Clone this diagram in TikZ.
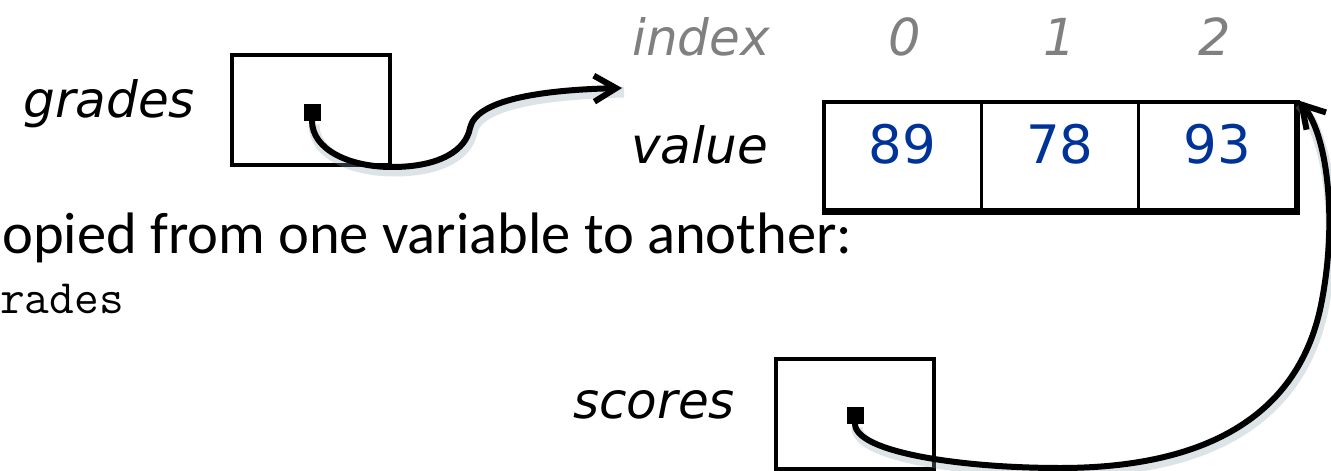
\documentclass[tikz,border=0pt]{standalone}
\usepackage{fontspec}
\setmainfont{DejaVu Sans}
\newfontfamily\calfont{Carlito}
\usetikzlibrary{arrows.meta}
\definecolor{idxgray}{RGB}{128,128,128}
\definecolor{numblue}{RGB}{0,51,153}
\definecolor{shadowgray}{RGB}{140,165,180}
\begin{document}
\begin{tikzpicture}[x=1pt,y=-1pt,
  lbl/.style={font=\fontsize{50}{60}\selectfont\itshape, inner sep=0, anchor=base east},
  idx/.style={font=\fontsize{51}{60}\selectfont\itshape, text=idxgray, inner sep=0, anchor=base},
  num/.style={font=\fontsize{53}{62}\selectfont, text=numblue, inner sep=0, anchor=base},
  refbox/.style={draw, line width=3.5pt, minimum width=158pt, minimum height=110pt, inner sep=0},
  cell/.style={draw, line width=3.5pt, minimum width=157.3pt, minimum height=108pt, inner sep=0},
  refdot/.style={fill, minimum size=17pt, inner sep=0},
  ptr/.style={line width=6pt, -{Straight Barb[length=22pt,width=26pt,line width=6pt]}},
  ptrshadow/.style={line width=11pt, draw=shadowgray, opacity=0.3, transform canvas={shift={(2pt,-4pt)}}}
]
\useasboundingbox (0,0) rectangle (1331,471);

% labels
\node[lbl] (gradeslbl) at (195,117) {grades};
\node[lbl] (scoreslbl) at (735,418) {scores};
\node[lbl] (valuelbl) at (768,163) {value};
\node[lbl, text=idxgray] (indexlbl) at (770,55) {index};

% reference boxes
\node[refbox] (gbox) at (311,110) {};
\node[refbox] (sbox) at (855,414) {};
\node[refdot] (gdot) at (312,112) {};
\node[refdot] (sdot) at (855,415) {};

% array cells
\node[cell] (c0) at (902.7,156) {};
\node[cell] (c1) at (1060,156) {};
\node[cell] (c2) at (1217.3,156) {};
\draw[line width=5.5pt] (c0.south west) -- (c2.south east) -- (c2.north east);

\node[num] (v0) at (902.7,163) {89};
\node[num] (v1) at (1060,163) {78};
\node[num] (v2) at (1217.3,163) {93};

\node[idx] (i0) at (905,55) {0};
\node[idx] (i1) at (1060,55) {1};
\node[idx] (i2) at (1215,55) {2};

% text lines
\node[font=\calfont\fontsize{58.5}{68}\selectfont, inner sep=0, anchor=base west] (copytxt) at (2,253) {opied from one variable to another:};
\node[font=\ttfamily\fontsize{48}{56}\selectfont, inner sep=0, anchor=base west] (codetxt) at (0,313) {rades};

% pointers
\coordinate (gtip) at (622,88);
\draw[ptrshadow] (gdot.south) .. controls (312,150) and (350,167) .. (392,167)
  .. controls (440,167) and (466,150) .. (470,128)
  .. controls (476,100) and (540,90) .. (gtip);
\draw[ptr] (gdot.south) .. controls (312,150) and (350,167) .. (392,167)
  .. controls (440,167) and (466,150) .. (470,128)
  .. controls (476,100) and (540,90) .. (gtip);

\draw[ptrshadow] (sdot.south) .. controls (855,452) and (960,468) .. (1060,468)
  .. controls (1200,468) and (1300,420) .. (1322,300)
  .. controls (1338,215) and (1326,132) .. (c2.north east);
\draw[ptr] (sdot.south) .. controls (855,452) and (960,468) .. (1060,468)
  .. controls (1200,468) and (1300,420) .. (1322,300)
  .. controls (1338,215) and (1326,132) .. (c2.north east);
\end{tikzpicture}
\end{document}
